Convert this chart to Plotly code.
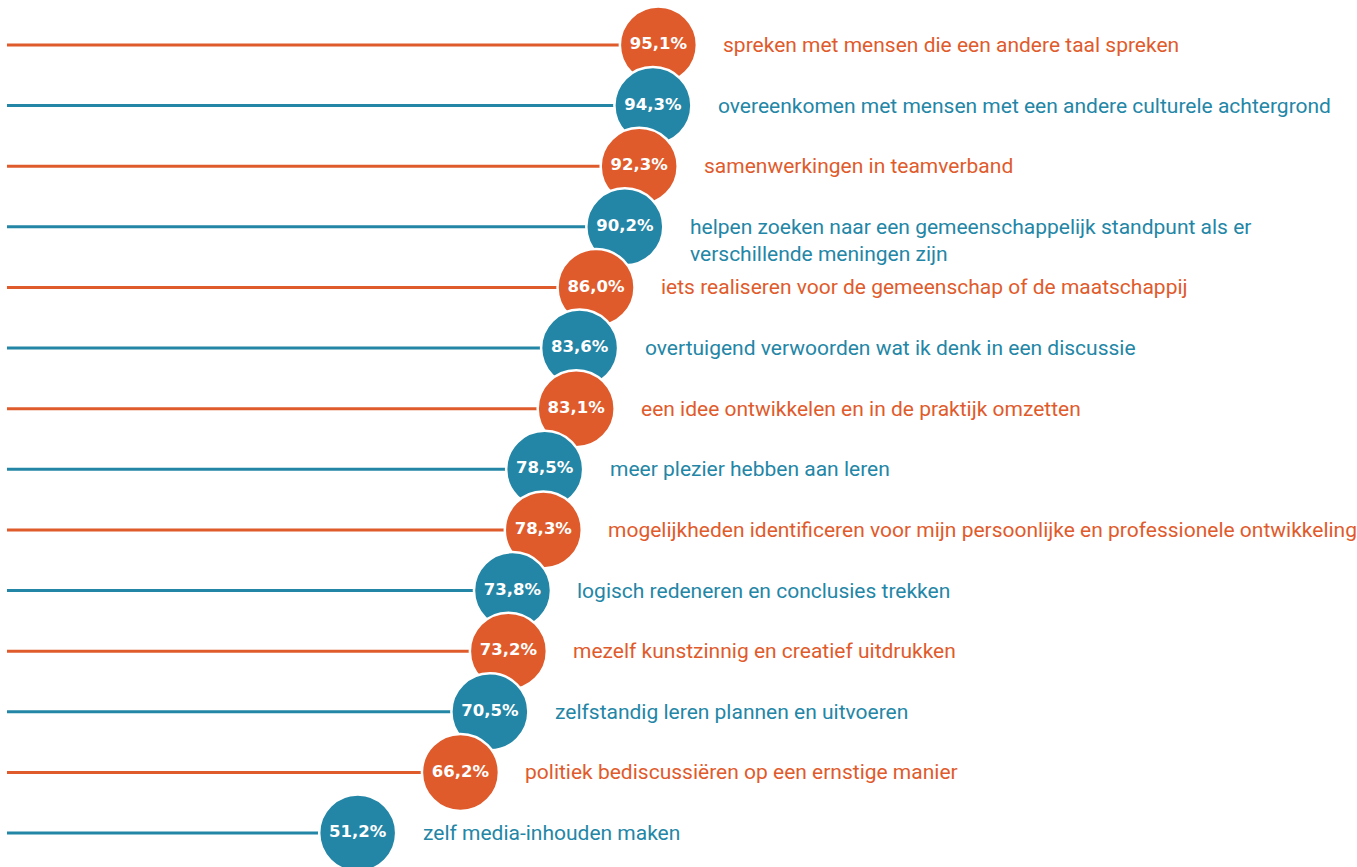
import plotly.graph_objects as go

labels = [
    "spreken met mensen die een andere taal spreken",
    "overeenkomen met mensen met een andere culturele achtergrond",
    "samenwerkingen in teamverband",
    "helpen zoeken naar een gemeenschappelijk standpunt als er<br>verschillende meningen zijn",
    "iets realiseren voor de gemeenschap of de maatschappij",
    "overtuigend verwoorden wat ik denk in een discussie",
    "een idee ontwikkelen en in de praktijk omzetten",
    "meer plezier hebben aan leren",
    "mogelijkheden identificeren voor mijn persoonlijke en professionele ontwikkeling",
    "logisch redeneren en conclusies trekken",
    "mezelf kunstzinnig en creatief uitdrukken",
    "zelfstandig leren plannen en uitvoeren",
    "politiek bediscussiëren op een ernstige manier",
    "zelf media-inhouden maken",
]
values = [95.1, 94.3, 92.3, 90.2, 86.0, 83.6, 83.1, 78.5, 78.3, 73.8, 73.2, 70.5, 66.2, 51.2]

ORANGE = "#DF5B2C"
BLUE = "#2386A6"
colors = [ORANGE if i % 2 == 0 else BLUE for i in range(len(values))]
rows = list(range(len(values)))
pct_text = [f"{v:.1f}".replace(".", ",") + "%" for v in values]

fig = go.Figure()

for r, v, c in zip(rows, values, colors):
    fig.add_trace(go.Scatter(
        x=[0, v], y=[r, r], mode="lines",
        line=dict(color=c, width=3), hoverinfo="skip", showlegend=False,
    ))

fig.add_trace(go.Scatter(
    x=values, y=rows, mode="markers+text",
    marker=dict(size=77, color=colors, line=dict(color="white", width=2.5)),
    text=pct_text, textposition="middle center",
    textfont=dict(family="DejaVu Sans", size=16.5, color="white", weight="bold"),
    hoverinfo="skip", showlegend=False,
))

for r, v, c, lab in zip(rows, values, colors, labels):
    nlines = lab.count("<br>") + 1
    fig.add_annotation(
        x=v, y=r, text=lab, showarrow=False,
        xanchor="left", yanchor="middle", align="left",
        xshift=63, yshift=-(nlines - 1) * 14,
        font=dict(family="Roboto, sans-serif", size=21, color=c),
    )

fig.update_layout(
    width=1357, height=867,
    margin=dict(l=0, r=0, t=0, b=0),
    paper_bgcolor="white", plot_bgcolor="white",
    xaxis=dict(range=[-1.02, 197.1], visible=False, fixedrange=True),
    yaxis=dict(range=[13.56, -0.742], visible=False, fixedrange=True),
)

fig.write_html("out.html")
